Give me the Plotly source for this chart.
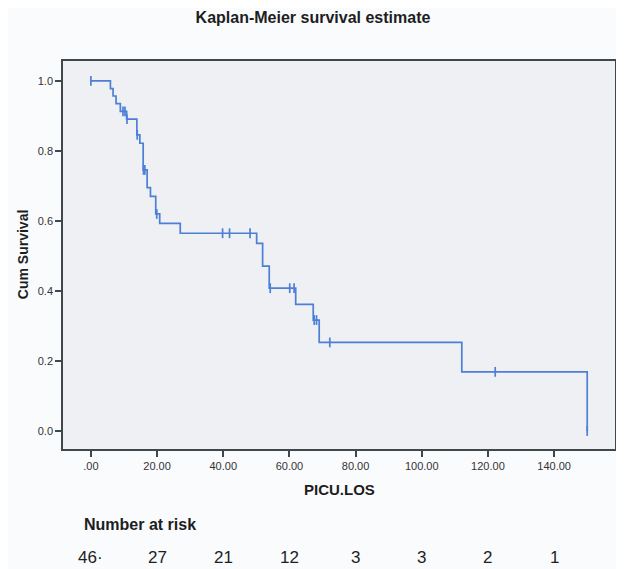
import numpy as np
import plotly.graph_objects as go

# ---- data ----
event_times = [5.9, 6.7, 7.6, 8.9, 10.8, 13.9, 14.8, 15.8, 17.0, 18.0, 19.6, 20.8,
               27.0, 50.1, 51.9, 53.9, 61.9, 67.2, 69.0, 112.1, 150.0]
survival = [0.978, 0.957, 0.935, 0.913, 0.891, 0.846, 0.822, 0.746, 0.695, 0.670,
            0.620, 0.593, 0.565, 0.536, 0.471, 0.408, 0.362, 0.317, 0.253, 0.169, 0.0]
censor_times = [0.0, 9.7, 10.3, 10.9, 14.0, 15.9, 16.3, 19.9, 39.8, 41.9, 48.1,
                54.2, 60.1, 61.4, 67.5, 68.2, 72.2, 122.2, 150.0]
risk_times = [0, 20, 40, 60, 80, 100, 120, 140]
risk_labels = ["46·", "27", "21", "12", "3", "3", "2", "1"]
x_tickvals = [0, 20, 40, 60, 80, 100, 120, 140]
x_ticktext = [".00", "20.00", "40.00", "60.00", "80.00", "100.00", "120.00", "140.00"]
y_tickvals = [0.0, 0.2, 0.4, 0.6, 0.8, 1.0]
y_ticktext = ["0.0", "0.2", "0.4", "0.6", "0.8", "1.0"]

# step curve points
step_x = [0.0] + event_times
step_y = [1.0] + survival

# survival level at each censor time (step function, right-continuous)
et = np.array(event_times)
sv = np.array([1.0] + survival)
idx = np.searchsorted(et, np.array(censor_times), side="right")
censor_y = sv[idx]

BLUE = "#4d7fd6"
AX = "#3f474b"
FONT = "Arial, Liberation Sans, sans-serif"
TXT = "#1e1e1e"

# page body has an 8px margin; figure coords = reference coords - 8
W, H = 616, 561
PL, PR, PT, PB = 55, 7, 53, 120      # plot area 554 x 388
pw, ph = W - PL - PR, H - PT - PB


def px_x(xref_px):
    return (xref_px - 8 - PL) / pw


def px_y(yref_px):
    return (H - PB - (yref_px - 8)) / ph


fig = go.Figure()
fig.add_trace(go.Scatter(x=step_x, y=step_y, mode="lines", line_shape="hv",
                         line=dict(color=BLUE, width=1.7), showlegend=False,
                         hoverinfo="skip"))
fig.add_trace(go.Scatter(x=censor_times, y=censor_y, mode="markers",
                         marker=dict(symbol="line-ns", size=7,
                                     line=dict(color=BLUE, width=1.7)),
                         showlegend=False))

annotations = []
for t, lab in zip(risk_times, risk_labels):
    annotations.append(dict(x=t, y=px_y(557), xref="x", yref="paper", text=lab,
                            showarrow=False, xanchor="center", yanchor="middle",
                            font=dict(family=FONT, size=17, color=TXT)))
annotations.append(dict(x=px_x(82), y=px_y(524), xref="paper", yref="paper",
                        text="<b>Number at risk</b>",
                        showarrow=False, xanchor="left", yanchor="middle",
                        font=dict(family=FONT, size=16, color=TXT)))
annotations.append(dict(x=0.5, y=px_y(489), xref="paper", yref="paper",
                        text="<b>PICU.LOS</b>", showarrow=False,
                        xanchor="center", yanchor="middle",
                        font=dict(family=FONT, size=15, color=TXT)))
annotations.append(dict(x=px_x(23), y=0.5, xref="paper", yref="paper",
                        text="<b>Cum Survival</b>", showarrow=False, textangle=-90,
                        xanchor="center", yanchor="middle",
                        font=dict(family=FONT, size=14, color=TXT)))

fig.update_layout(
    width=W, height=H,
    margin=dict(l=PL, r=PR, t=PT, b=PB),
    paper_bgcolor="#fafbfd", plot_bgcolor="#eef0f3",
    title=dict(text="<b>Kaplan-Meier survival estimate</b>", x=(313 - 8) / W,
               xref="container", y=1 - (17 - 8) / H, yref="container",
               xanchor="center", yanchor="middle",
               font=dict(family=FONT, size=16, color=TXT)),
    annotations=annotations,
    xaxis=dict(range=[-8.43, 158.4], tickvals=x_tickvals, ticktext=x_ticktext,
               showgrid=False, zeroline=False, showline=True, mirror=True,
               linecolor=AX, linewidth=1.5, ticks="outside", ticklen=6,
               tickcolor=AX, tickwidth=1.5,
               tickfont=dict(family=FONT, size=11, color="#333333")),
    yaxis=dict(range=[-0.0514, 1.057], tickvals=y_tickvals, ticktext=y_ticktext,
               showgrid=False, zeroline=False, showline=True, mirror=True,
               linecolor=AX, linewidth=1.5, ticks="outside", ticklen=6,
               tickcolor=AX, tickwidth=1.5,
               tickfont=dict(family=FONT, size=11, color="#333333")),
)

fig.write_html("out.html")
